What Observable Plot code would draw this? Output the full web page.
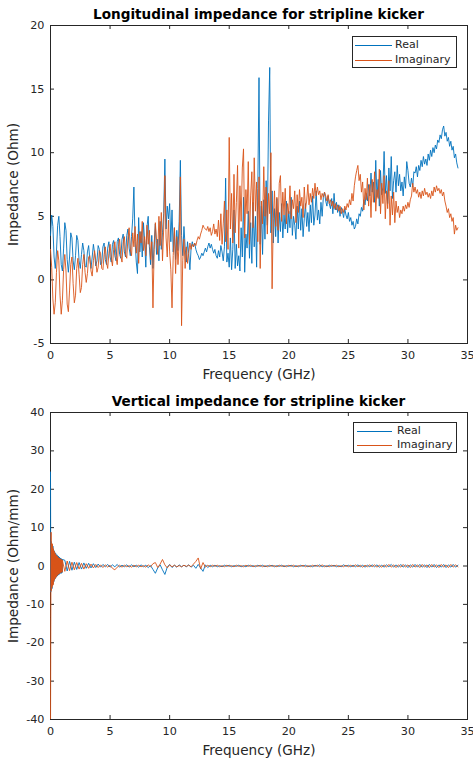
<!DOCTYPE html>
<html><head><meta charset="utf-8">
<script src="https://cdn.jsdelivr.net/npm/d3@7"></script>
<script src="https://cdn.jsdelivr.net/npm/@observablehq/plot@0.6"></script>
<style>
body{margin:0;background:#fff;}
#wrap{position:relative;width:473px;height:759px;overflow:hidden;font-family:"DejaVu Sans",sans-serif;color:#262626;}
.panel{position:absolute;left:0;}
.title{position:absolute;left:50px;width:417px;text-align:center;font-weight:bold;font-size:13.6px;color:#000;line-height:16px;white-space:nowrap;}
.legend{position:absolute;box-sizing:border-box;background:#fff;border:1px solid #262626;font-size:11px;}
.legend .sw{position:absolute;height:0;border-top:1px solid;}
.legend .lb{position:absolute;line-height:12px;}
</style></head>
<body><div id="wrap"></div>
<script>
// ---------- Longitudinal impedance (Ohm), 0.1 GHz spacing, 0 .. 34.2 GHz ----------
const longStep = 0.1;
const longReal = [
3.5,5.1,4.2,1.8,0.9,2.2,4.3,5.0,3.4,1.2,
0.7,2.5,4.5,3.9,1.6,0.6,1.8,3.7,3.3,1.5,
0.8,1.9,3.5,3.1,1.5,0.9,2.0,2.9,2.3,1.1,
1.0,2.2,2.7,1.6,0.9,1.8,2.8,2.1,1.1,1.5,
2.7,2.4,1.2,1.3,2.6,2.9,1.6,1.2,2.5,3.0,
1.8,1.4,2.8,3.1,1.9,1.5,3.0,3.3,2.0,1.7,
3.2,3.6,2.2,1.8,3.5,4.0,2.5,1.9,3.4,4.8,
7.3,3.0,1.4,0.5,4.9,2.2,3.8,1.8,4.5,3.1,
1.0,4.2,5.0,2.6,1.2,3.5,0.9,2.8,4.4,2.0,
3.2,1.5,4.6,2.4,3.7,5.2,9.5,4.0,5.8,4.8,
6.0,3.0,5.5,2.2,4.1,1.6,3.9,2.3,4.6,9.4,
3.5,1.9,4.2,2.6,1.4,3.0,2.1,0.8,2.5,3.0,
2.6,2.9,2.4,2.1,1.9,1.6,1.8,2.1,1.9,2.2,
2.5,2.2,2.6,2.9,2.5,2.8,2.4,2.1,2.4,1.9,
1.7,2.3,1.8,2.7,2.2,1.5,2.6,8.0,1.4,2.1,
1.0,3.3,0.8,2.4,5.5,0.9,2.8,1.1,1.9,0.7,
4.1,1.8,6.5,0.6,3.6,2.5,5.4,1.7,4.5,1.3,
6.1,2.6,5.0,1.0,7.2,15.9,2.8,5.8,2.0,6.3,
3.2,7.8,4.3,12.5,16.7,3.7,7.0,2.9,5.6,3.4,
6.4,2.9,5.3,3.8,6.0,3.3,5.1,4.0,6.2,3.7,
5.4,4.1,6.5,3.5,5.0,4.3,3.2,5.8,4.0,6.2,
3.9,5.6,3.4,4.8,6.0,4.2,5.3,3.8,5.9,4.5,
6.6,4.3,5.1,7.0,4.7,5.5,4.4,6.1,5.0,6.5,
6.9,6.2,5.8,6.6,6.0,5.6,6.4,5.2,6.8,5.5,
6.1,5.3,5.9,5.0,5.7,5.4,4.9,5.6,5.1,4.8,
5.3,4.6,4.9,4.3,4.6,4.0,4.2,4.8,4.4,5.2,
5.0,5.7,5.4,6.3,5.9,6.8,6.2,7.5,6.6,8.4,
6.9,7.7,6.1,9.4,6.5,7.9,5.8,8.6,6.7,7.3,
10.1,6.8,8.2,6.0,8.8,7.0,9.7,6.4,7.8,8.5,
6.9,9.0,7.4,8.3,7.0,7.7,6.6,8.1,7.2,9.3,
8.6,7.6,7.3,8.0,7.3,8.5,8.4,8.9,8.1,9.0,
8.6,9.4,8.9,9.7,9.1,9.5,9.0,9.9,9.4,10.2,
9.7,10.4,10.0,10.6,10.3,11.0,10.8,11.4,11.1,11.8,
12.1,11.3,11.6,10.9,11.2,10.5,10.9,10.2,10.5,9.6,
9.9,9.2,8.8];
const longImag = [
2.4,1.0,-1.5,-2.7,-1.8,0.6,2.3,1.5,-1.2,-2.7,
-1.6,0.8,2.0,0.7,-1.9,-2.5,-0.8,1.2,1.8,-0.3,
-1.8,-1.2,0.9,1.7,0.4,-1.0,-0.6,1.2,2.0,0.6,
-0.2,0.5,1.8,1.9,0.7,0.3,1.5,2.3,1.5,0.6,
1.0,2.3,2.1,0.9,0.8,2.0,2.6,1.4,0.9,2.1,
2.8,1.7,1.1,2.4,3.0,1.8,1.2,2.6,3.2,1.9,
1.4,2.9,3.4,2.0,1.7,3.3,4.1,2.4,1.9,3.7,
2.6,4.2,2.1,3.6,1.3,3.8,2.9,4.6,2.3,3.4,
1.9,4.3,2.8,3.9,1.6,3.0,-2.2,2.4,4.5,3.1,
2.0,5.0,2.7,5.3,1.5,4.0,8.2,3.3,1.8,4.7,
2.2,0.8,-2.2,1.9,4.1,0.5,3.4,1.2,2.9,8.1,
-3.6,1.5,3.2,0.9,2.6,1.3,2.1,2.9,2.4,2.8,
2.6,2.9,2.7,3.1,3.4,3.2,3.6,3.9,4.3,4.1,
4.0,3.9,4.2,3.8,4.1,3.5,3.8,4.4,3.6,4.0,
3.4,4.7,3.1,5.2,2.8,4.4,6.2,3.0,5.5,2.4,
11.2,4.0,6.8,2.9,8.3,3.7,6.1,9.0,2.5,7.4,
4.6,8.8,10.3,3.3,7.1,5.2,9.3,2.8,6.6,8.5,
4.1,9.6,5.4,7.7,3.0,8.1,0.9,6.2,4.4,8.9,
5.0,7.3,3.6,6.8,5.2,10.0,-0.7,4.8,7.0,4.2,
6.5,3.9,7.6,8.2,4.6,6.9,5.1,7.2,4.4,6.0,
5.2,7.4,4.8,6.3,5.6,7.0,4.5,6.7,5.3,7.1,
5.8,6.5,4.9,7.3,5.6,6.2,7.5,5.9,6.8,6.1,
7.2,6.4,7.6,6.6,7.3,6.7,7.0,6.3,6.8,6.5,
6.9,6.6,6.2,6.7,6.0,6.3,5.8,6.2,5.6,6.0,
5.5,5.9,5.4,5.8,5.2,5.6,5.3,5.8,5.5,6.0,
5.7,6.3,5.9,6.8,6.2,7.4,8.1,8.6,9.0,7.8,
8.3,6.9,7.7,5.5,7.2,6.3,8.0,5.8,7.5,4.9,
7.9,6.1,8.5,5.4,7.1,6.4,8.7,5.2,7.6,6.0,
8.2,4.8,7.0,5.6,7.8,4.3,6.6,5.1,6.9,4.5,
6.2,5.3,5.8,4.9,5.5,5.2,5.8,5.4,5.9,5.6,
6.1,5.7,6.3,6.6,7.6,6.9,7.3,6.8,7.1,6.5,
6.9,6.4,7.0,6.6,7.2,6.7,6.9,6.5,6.8,6.4,
7.0,6.6,7.3,6.9,7.4,7.0,7.2,6.8,7.1,6.6,
6.9,6.2,5.8,5.3,5.6,4.9,5.2,4.6,4.9,3.6,
4.3,3.9,4.1];

// ---------- Vertical impedance (Ohm/mm) ----------
// fine part: 0 .. 1.0 GHz every 0.025 GHz; coarse part: 1.2 .. 34.2 GHz every 0.2 GHz
const vertFineStep = 0.025, vertCoarseStart = 1.2, vertCoarseStep = 0.2;
const vertRealFine = [24.5,-6.8,6.4,-6.2,5.8,-5.9,5.5,-5.0,5.2,-4.6,4.4,-4.1,4.0,-3.7,3.6,-3.4,3.3,-3.1,3.2,-2.9,2.8,-2.7,2.9,-2.6,2.5,-2.4,2.6,-2.3,2.2,-2.2,2.3,-2.0,2.1,-1.9,2.0,-1.8,1.9,-1.9,1.8,-1.7,1.7];
const vertImagFine = [-45,-13.5,8.8,-6.4,6.0,-5.6,5.7,-5.1,4.8,-4.9,4.3,-4.0,3.9,-3.6,3.5,-3.3,3.2,-3.0,2.9,-2.9,2.7,-2.6,2.6,-2.4,2.4,-2.3,2.2,-2.1,2.1,-2.0,2.0,-1.9,1.9,-1.8,1.8,-1.7,1.7,-1.6,1.6,-1.6,1.5];
const vertRealCoarse = [
1.5,-1.3,1.2,-1.1,1.0,-0.9,0.9,-0.8,0.8,-0.6,
0.7,-0.5,0.6,-0.4,0.5,-0.3,0.4,-0.2,0.4,-0.3,
0.3,-0.2,0.4,-0.3,0.2,-0.2,0.3,-0.3,0.3,-0.2,
0.2,-0.3,0.3,-0.2,0.2,-0.4,0.1,-0.9,-1.9,-0.5,
0.3,-1.0,-2.2,-0.3,0.4,-0.4,0.2,-0.3,0.3,-0.2,
0.2,-0.2,0.3,-0.3,0.2,-0.6,0.4,-0.5,-1.4,0.3,
-0.4,0.2,-0.2,0.2,-0.2,0.1,-0.2,0.2,-0.1,0.2,
-0.2,0.1,-0.1,0.2,-0.2,0.1,-0.2,0.2,-0.1,0.1,
-0.2,0.2,-0.1,0.2,-0.2,0.1,-0.1,0.2,-0.2,0.1,
-0.1,0.2,-0.2,0.1,-0.1,0.2,-0.2,0.1,-0.2,0.2,
-0.1,0.2,-0.2,0.1,-0.2,0.2,-0.1,0.3,-0.2,0.1,
-0.2,0.2,-0.1,0.2,-0.2,0.1,-0.2,0.3,-0.1,0.2,
-0.2,0.2,-0.2,0.3,-0.2,0.2,-0.3,0.2,-0.2,0.3,
-0.2,0.3,-0.3,0.2,-0.3,0.3,-0.2,0.4,-0.3,0.3,
-0.3,0.4,-0.3,0.3,-0.4,0.3,-0.3,0.4,-0.3,0.4,
-0.3,0.3,-0.4,0.4,-0.3,0.4,-0.4,0.3,-0.3,0.4,
-0.4,0.3,-0.3,0.4,-0.3,0.2];
const vertImagCoarse = [
-1.4,1.3,-1.2,1.0,-1.0,0.9,-0.8,0.7,-0.8,0.6,
-0.6,0.5,-0.5,0.4,-0.4,0.3,-0.4,0.3,-0.3,0.2,
-0.6,-1.0,-0.3,0.2,-0.3,0.2,-0.2,0.1,-0.3,0.2,
-0.2,0.2,-0.2,0.1,-0.3,0.3,-0.2,0.6,0.9,-0.4,
0.5,1.7,0.3,-0.5,0.3,-0.2,0.2,-0.2,0.1,-0.2,
0.2,-0.1,0.2,-0.2,0.5,1.2,2.1,-0.8,0.9,-0.3,
0.2,-0.2,0.2,-0.1,0.2,-0.2,0.1,-0.2,0.2,-0.1,
0.1,-0.2,0.2,-0.1,0.1,-0.2,0.2,-0.1,0.2,-0.2,
0.1,-0.1,0.2,-0.2,0.1,-0.2,0.2,-0.1,0.1,-0.2,
0.2,-0.1,0.1,-0.2,0.2,-0.1,0.2,-0.2,0.1,-0.1,
0.2,-0.2,0.1,-0.2,0.2,-0.1,0.2,-0.2,0.3,-0.2,
0.1,-0.2,0.2,-0.1,0.2,-0.2,0.1,-0.2,0.2,-0.2,
0.2,-0.2,0.3,-0.2,0.2,-0.3,0.2,-0.2,0.3,-0.2,
0.3,-0.3,0.2,-0.3,0.3,-0.3,0.4,-0.3,0.3,-0.4,
0.3,-0.3,0.4,-0.3,0.3,-0.4,0.4,-0.3,0.3,-0.4,
0.4,-0.3,0.3,-0.4,0.4,-0.3,0.3,-0.4,0.4,-0.3,
0.3,-0.4,0.4,-0.3,0.3,-0.2];

// ---------- axes / labels ----------
const xTicks = [0,5,10,15,20,25,30,35];
const longYTicks = [-5,0,5,10,15,20];
const vertYTicks = [-40,-30,-20,-10,0,10,20,30,40];
const seriesNames = ["Real","Imaginary"];
const seriesColors = ["#0072BD","#D95319"];
const titles = ["Longitudinal impedance for stripline kicker","Vertical impedance for stripline kicker"];
const yLabels = ["Impedance (Ohm)","Impedance (Ohm/mm)"];
const xLabel = "Frequency (GHz)";

// build tables
const longData = longReal.map((re,i)=>({f:+(i*longStep).toFixed(3), re, im:longImag[i]}));
const vertData = vertRealFine.map((re,i)=>({f:+(i*vertFineStep).toFixed(3), re, im:vertImagFine[i]}))
  .concat(vertRealCoarse.map((re,i)=>({f:+(vertCoarseStart+i*vertCoarseStep).toFixed(3), re, im:vertImagCoarse[i]})));
if (longReal.length!==343||longImag.length!==343) throw new Error("long len "+longReal.length+" "+longImag.length);
if (vertRealCoarse.length!==166||vertImagCoarse.length!==166||vertRealFine.length!==41||vertImagFine.length!==41) throw new Error("vert len");

const AX = "#262626";
function panel({data, yDomain, yTicks, yLabel, height, mt, mb}) {
  const W = 473, ml = 50, mr = 6;
  const fw = W - ml - mr, fh = height - mt - mb, tl = 4;
  return Plot.plot({
    width: W, height, marginLeft: ml, marginRight: mr, marginTop: mt, marginBottom: mb,
    style: {fontFamily: "DejaVu Sans, sans-serif", fontSize: "11.2px", color: AX, background: "transparent", overflow: "visible"},
    x: {domain: [0, 35]},
    y: {domain: yDomain},
    marks: [
      Plot.frame({stroke: AX, strokeWidth: 1}),
      Plot.tickX(xTicks, {x: d => d, stroke: AX, insetTop: fh - tl}),
      Plot.tickX(xTicks, {x: d => d, stroke: AX, insetBottom: fh - tl}),
      Plot.tickY(yTicks, {y: d => d, stroke: AX, insetRight: fw - tl}),
      Plot.tickY(yTicks, {y: d => d, stroke: AX, insetLeft: fw - tl}),
      Plot.line(data, {x: "f", y: "re", stroke: seriesColors[0], strokeWidth: 0.9, clip: true}),
      Plot.line(data, {x: "f", y: "im", stroke: seriesColors[1], strokeWidth: 0.9, clip: true}),
      Plot.axisX({ticks: xTicks, tickSize: 0, tickPadding: 8, tickFormat: d => String(d), label: null}),
      Plot.axisX({ticks: [], tickSize: 0, label: xLabel, labelAnchor: "center", labelArrow: "none", labelOffset: 35, fontSize: 13.6}),
      Plot.axisY({ticks: yTicks, tickSize: 0, tickPadding: 6, tickFormat: d => String(d), label: null}),
      Plot.axisY({ticks: [], tickSize: 0, label: yLabel, labelAnchor: "center", labelArrow: "none", labelOffset: 42, fontSize: 13.6})
    ]
  });
}

const wrap = document.getElementById("wrap");
function place(el, top) { el.classList.add("panel"); el.style.top = top + "px"; wrap.appendChild(el); }
place(panel({data: longData, yDomain: [-5, 20], yTicks: longYTicks, yLabel: yLabels[0], height: 385, mt: 25, mb: 42}), 0);
place(panel({data: vertData, yDomain: [-40, 40], yTicks: vertYTicks, yLabel: yLabels[1], height: 374, mt: 27, mb: 40}), 385);

function addTitle(text, top) {
  const d = document.createElement("div"); d.className = "title"; d.style.top = top + "px"; d.textContent = text; wrap.appendChild(d);
}
addTitle(titles[0], 6);
addTitle(titles[1], 393);

function addLegend(left, top, w, h, rows, swL, swR, txL) {
  const box = document.createElement("div"); box.className = "legend";
  Object.assign(box.style, {left: left + "px", top: top + "px", width: w + "px", height: h + "px"});
  seriesNames.forEach((name, i) => {
    const sw = document.createElement("div"); sw.className = "sw";
    Object.assign(sw.style, {left: swL + "px", width: (swR - swL) + "px", top: rows[i] + "px", borderTopColor: seriesColors[i]});
    const lb = document.createElement("div"); lb.className = "lb"; lb.textContent = name;
    Object.assign(lb.style, {left: txL + "px", top: (rows[i] - 6.5) + "px"});
    box.appendChild(sw); box.appendChild(lb);
  });
  wrap.appendChild(box);
}
addLegend(352, 36, 105, 32, [8, 23], 2, 39, 42);
addLegend(353, 422, 104, 31, [8, 22], 3, 38, 43);
</script></body></html>
